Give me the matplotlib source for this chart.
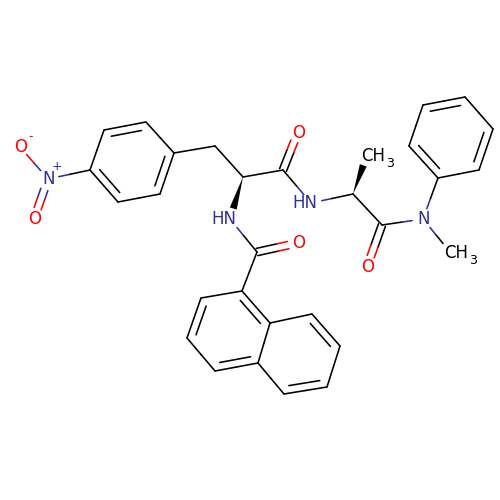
import numpy as np
import matplotlib
matplotlib.use("Agg")
import matplotlib.pyplot as plt

# atom positions (pixels, y down)
atom_names = ['no2_o1', 'no2_n', 'no2_o2',
              'a1', 'a2', 'a3', 'a4', 'a5', 'a6', 'ch2', 'ca1', 'n1',
              'co1', 'o1', 'n2', 'ca2', 'me1', 'co2', 'o2', 'n3', 'me2',
              'p1', 'p2', 'p3', 'p4', 'p5', 'p6',
              'co3', 'o3',
              'b1', 'b2', 'b3', 'b4', 'b4a', 'b8a', 'b8', 'b7', 'b6', 'b5']
atom_x = [20, 48, 34,
          90, 104, 146, 174, 160, 118, 215, 243, 230,
          283, 298, 311, 353, 367, 382, 367, 423, 450,
          438, 409, 423, 465, 493, 479,
          257, 298,
          242, 201, 187, 215, 258, 270, 312, 340, 327, 284]
atom_y = [147, 179, 219,
          170, 130, 122, 153, 194, 202, 146, 177, 219,
          170, 132, 203, 194, 155, 225, 267, 219, 252,
          178, 146, 105, 97, 129, 170,
          252, 243,
          291, 298, 338, 371, 363, 323, 314, 346, 387, 394]

single_bonds = [('a1', 'no2_n'), ('no2_n', 'no2_o1'),
                ('a1', 'a2'), ('a3', 'a4'), ('a5', 'a6'), ('a4', 'ch2'), ('ch2', 'ca1'),
                ('ca1', 'co1'), ('co1', 'n2'), ('n2', 'ca2'), ('ca2', 'co2'),
                ('co2', 'n3'), ('n3', 'me2'), ('n3', 'p1'),
                ('p2', 'p3'), ('p4', 'p5'), ('p6', 'p1'),
                ('n1', 'co3'), ('co3', 'b1'),
                ('b1', 'b2'), ('b3', 'b4'), ('b4a', 'b8a'), ('b8a', 'b8'),
                ('b7', 'b6'), ('b5', 'b4a')]
ring_doubles = [('a2', 'a3', 'nitro'), ('a4', 'a5', 'nitro'), ('a6', 'a1', 'nitro'),
                ('p1', 'p2', 'phenyl'), ('p3', 'p4', 'phenyl'), ('p5', 'p6', 'phenyl'),
                ('b1', 'b8a', 'naph_l'), ('b2', 'b3', 'naph_l'), ('b4', 'b4a', 'naph_l'),
                ('b8', 'b7', 'naph_r'), ('b6', 'b5', 'naph_r')]
oxo_bonds = [('co1', 'o1'), ('co2', 'o2'), ('co3', 'o3'), ('no2_n', 'no2_o2')]
wedge_bonds = [('ca1', 'n1'), ('ca2', 'me1')]

rings = {'nitro': ['a1', 'a2', 'a3', 'a4', 'a5', 'a6'],
         'phenyl': ['p1', 'p2', 'p3', 'p4', 'p5', 'p6'],
         'naph_l': ['b1', 'b2', 'b3', 'b4', 'b4a', 'b8a'],
         'naph_r': ['b8a', 'b8', 'b7', 'b6', 'b5', 'b4a']}

BLUE = '#30309f'
RED = '#ff0000'
atom_color = {'no2_o1': RED, 'no2_o2': RED, 'o1': RED, 'o2': RED, 'o3': RED,
              'no2_n': BLUE, 'n1': BLUE, 'n2': BLUE, 'n3': BLUE}
atom_trim = {'no2_o1': 10, 'no2_o2': 11, 'o1': 10, 'o2': 11, 'o3': 10,
             'no2_n': 11, 'n1': 11, 'n2': 11, 'n3': 11, 'me1': 11, 'me2': 11}

pos = {n: np.array([x, y], dtype=float) for n, x, y in zip(atom_names, atom_x, atom_y)}

fig = plt.figure(figsize=(5, 5), dpi=100)
ax = fig.add_axes([0, 0, 1, 1])
ax.set_xlim(0, 500)
ax.set_ylim(500, 0)
ax.axis('off')

LW = 1.15


def draw_bond(a, b, shift=(0, 0)):
    # two halves so each end takes the colour of its atom
    p, q = pos[a], pos[b]
    mid = (p + q) / 2 + shift
    u = (q - p) / np.linalg.norm(q - p)
    start = p + u * atom_trim.get(a, 0) + shift
    end = q - u * atom_trim.get(b, 0) + shift
    ax.plot([start[0], mid[0]], [start[1], mid[1]], color=atom_color.get(a, 'black'),
            lw=LW, solid_capstyle='round')
    ax.plot([mid[0], end[0]], [mid[1], end[1]], color=atom_color.get(b, 'black'),
            lw=LW, solid_capstyle='round')


for a, b in single_bonds:
    draw_bond(a, b)

for a, b, ring in ring_doubles:
    draw_bond(a, b)
    c = np.mean([pos[n] for n in rings[ring]], axis=0)
    p, q = pos[a], pos[b]
    u = (q - p) / np.linalg.norm(q - p)
    nrm = np.array([-u[1], u[0]])
    if np.dot(c - p, nrm) < 0:
        nrm = -nrm
    ln = np.linalg.norm(q - p)
    s = p + u * ln * 0.14 + nrm * 7.5
    e = q - u * ln * 0.14 + nrm * 7.5
    ax.plot([s[0], e[0]], [s[1], e[1]], color='black', lw=LW, solid_capstyle='round')

for a, b in oxo_bonds:
    u = (pos[b] - pos[a]) / np.linalg.norm(pos[b] - pos[a])
    nrm = np.array([-u[1], u[0]])
    draw_bond(a, b, nrm * 3.7)
    draw_bond(a, b, -nrm * 3.7)

for a, b in wedge_bonds:
    p, q = pos[a], pos[b]
    u = (q - p) / np.linalg.norm(q - p)
    nrm = np.array([-u[1], u[0]])
    base = q - u * atom_trim[b]
    tri = np.array([p, base + nrm * 3.6, base - nrm * 3.6])
    ax.fill(tri[:, 0], tri[:, 1], color='black', lw=0)

FS = 12
for name, txt in [('no2_o1', 'O'), ('no2_o2', 'O'), ('o1', 'O'), ('o2', 'O'), ('o3', 'O'), ('no2_n', 'N'), ('n3', 'N')]:
    ax.text(pos[name][0] + 0.5, pos[name][1] + 5.5, txt, color=atom_color[name], fontsize=FS,
            ha='center', va='baseline')
for name in ['n1', 'n2']:
    ax.text(pos[name][0] + 6.5, pos[name][1] + 5.5, 'HN', color=BLUE, fontsize=FS,
            ha='right', va='baseline')
for name in ['me1', 'me2']:
    ax.text(pos[name][0] - 6, pos[name][1] + 6, 'CH', color='black', fontsize=FS,
            ha='left', va='baseline')
    ax.text(pos[name][0] + 19, pos[name][1] + 12, '3', color='black', fontsize=9,
            ha='left', va='baseline')

ax.text(pos['no2_n'][0] + 9, pos['no2_n'][1] - 14, '+', color=BLUE, fontsize=9, ha='center', va='center_baseline')
ax.text(pos['no2_o1'][0] + 11, pos['no2_o1'][1] - 12, '-', color=RED, fontsize=9, ha='center', va='center_baseline')

fig.savefig('out.png', dpi=100, facecolor='white')
